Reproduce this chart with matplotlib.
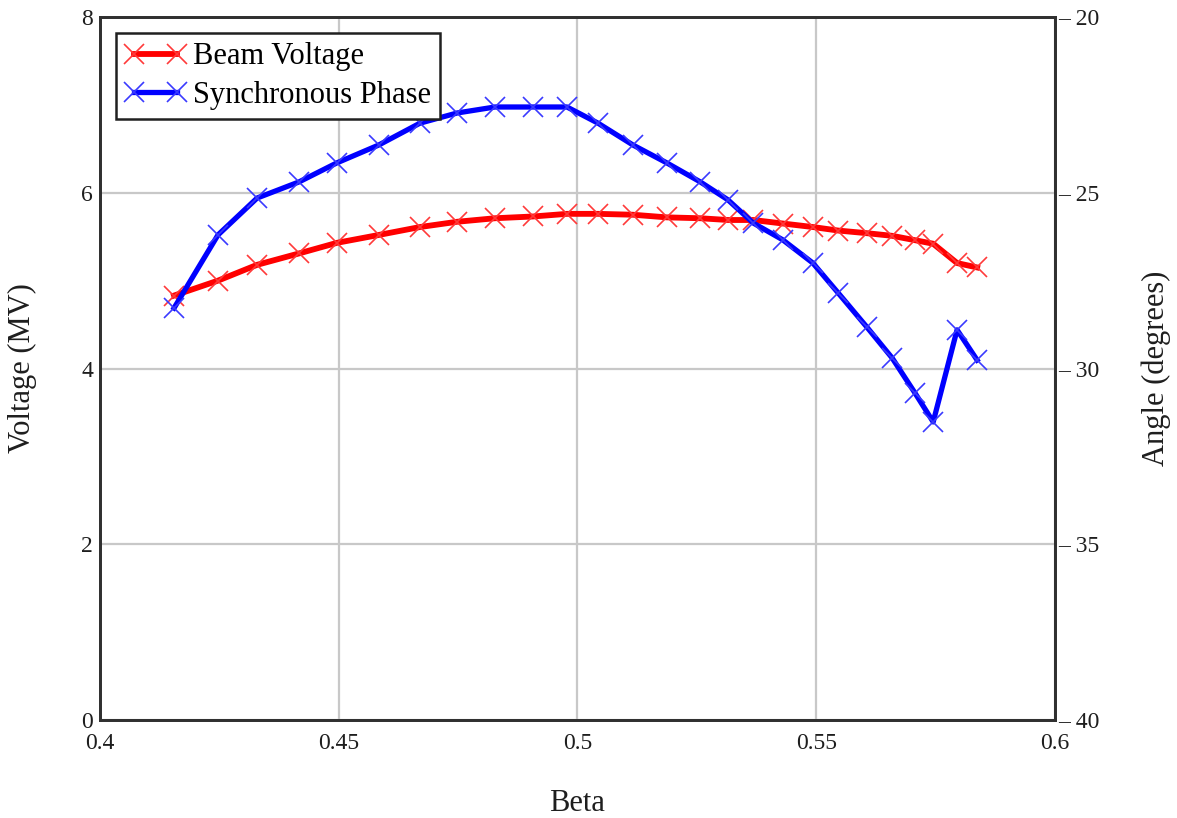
import numpy as np
import matplotlib
matplotlib.use("Agg")
import matplotlib.pyplot as plt

plt.rcParams["font.family"] = ["Liberation Serif", "DejaVu Serif"]

# beta points (shared by both curves)
beta = [0.4155, 0.4247, 0.4329, 0.4417, 0.4496, 0.4584, 0.4670, 0.4748, 0.4827,
        0.4907, 0.4978, 0.5043, 0.5116, 0.5187, 0.5257, 0.5315, 0.5368, 0.5430,
        0.5493, 0.5546, 0.5606, 0.5659, 0.5707, 0.5745, 0.5795, 0.5837]

# beam voltage (MV)
voltage = [4.83, 5.00, 5.18, 5.31, 5.43, 5.52, 5.61, 5.67, 5.71, 5.73, 5.76,
           5.76, 5.75, 5.72, 5.71, 5.69, 5.69, 5.65, 5.61, 5.57, 5.54, 5.51,
           5.46, 5.42, 5.20, 5.15]

# synchronous phase (degrees)
phase = [-28.28, -26.20, -25.15, -24.69, -24.15, -23.64, -23.02, -22.73, -22.56,
         -22.56, -22.56, -23.02, -23.64, -24.15, -24.69, -25.20, -25.86, -26.34,
         -27.00, -27.85, -28.82, -29.70, -30.70, -31.52, -28.90, -29.76]

xticks = [0.4, 0.45, 0.5, 0.55, 0.6]
xticklabels = ["0.4", "0.45", "0.5", "0.55", "0.6"]
vticks = [0, 2, 4, 6, 8]
aticks = [-40, -35, -30, -25, -20]

txt = "#1e1e1e"
tick_fs = 17
lab_fs = 22

fig = plt.figure(figsize=(11.77, 8.18), dpi=100)
ax = fig.add_axes([0.085, 0.1198, 0.8113, 0.8594])
ax2 = ax.twinx()

l1, = ax.plot(beta, voltage, color="red", lw=4.2, marker="x", ms=15, mew=1.2,
              mec="#ff3a3a", label="Beam Voltage", zorder=3)
l2, = ax2.plot(beta, phase, color="blue", lw=3.8, marker="x", ms=15, mew=1.2,
               mec="#3a3aff", label="Synchronous Phase", zorder=3)

ax.set_xlim(0.4, 0.6)
ax.set_ylim(0, 8)
ax2.set_ylim(-40, -20)

ax.set_xticks(xticks)
ax.set_xticklabels(xticklabels)
ax.set_yticks(vticks)
ax.set_yticklabels([str(v) for v in vticks])
ax2.set_yticks(aticks)
ax2.set_yticklabels(["\u2013 %d" % abs(a) for a in aticks])

ax.tick_params(axis="both", length=0, labelsize=tick_fs, labelcolor=txt)
ax.tick_params(axis="x", pad=9)
ax.tick_params(axis="y", pad=5)
ax2.tick_params(axis="y", length=0, labelsize=tick_fs, labelcolor=txt, pad=2)

ax.grid(True, color="#c8c8c8", lw=1.6)
ax.set_axisbelow(True)

for a in (ax, ax2):
    for s in a.spines.values():
        s.set_color("#303030")
        s.set_linewidth(2)

ax.set_xlabel("Beta", fontsize=lab_fs, color=txt)
ax.set_ylabel("Voltage (MV)", fontsize=lab_fs, color=txt)
ax2.set_ylabel("Angle (degrees)", fontsize=lab_fs, color=txt, rotation=90)
ax.xaxis.set_label_coords(0.5, -0.098)
ax.yaxis.set_label_coords(-0.066, 0.5)
ax2.yaxis.set_label_coords(1.091, 0.5)

# legend on the twin axes so it sits above both curves
leg = ax2.legend([l1, l2], ["Beam Voltage", "Synchronous Phase"], loc="upper left",
                 bbox_to_anchor=(0.0168, 0.977), borderaxespad=0, fontsize=lab_fs,
                 fancybox=False, framealpha=1, edgecolor="#202020", numpoints=2,
                 handlelength=2.0, handletextpad=0.22, borderpad=0.3,
                 labelspacing=0.3)
leg.get_frame().set_linewidth(1.8)

fig.savefig("out.png", dpi=100)
